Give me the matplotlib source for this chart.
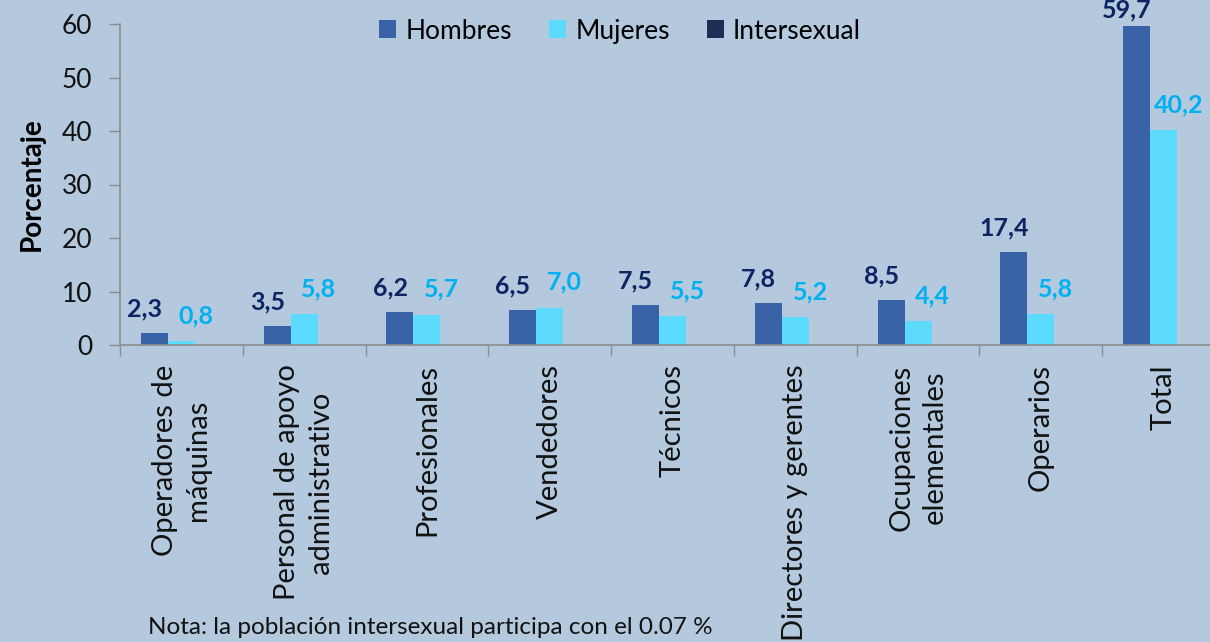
import numpy as np
import matplotlib.pyplot as plt

plt.rcParams['font.family'] = ['Lato', 'DejaVu Sans']

categorias = ['Operadores de\nmáquinas', 'Personal de apoyo\nadministrativo', 'Profesionales',
              'Vendedores', 'Técnicos', 'Directores y gerentes', 'Ocupaciones\nelementales',
              'Operarios', 'Total']
hombres = [2.3, 3.5, 6.2, 6.5, 7.5, 7.8, 8.5, 17.4, 59.7]
mujeres = [0.8, 5.8, 5.7, 7.0, 5.5, 5.2, 4.4, 5.8, 40.2]
intersexual = [0, 0, 0, 0, 0, 0, 0, 0, 0]
nota = 'Nota: la población intersexual participa con el 0.07 %'

fondo = '#B4C9DE'
c_h = '#3A62A7'
c_m = '#5CDBFF'
c_i = '#1F2D56'
gris = '#8C8C8C'

fig = plt.figure(figsize=(12.1, 6.42), dpi=100, facecolor=fondo)
ax = fig.add_axes([120 / 1210, 297 / 642, 1105 / 1210, 0.5])
ax.set_facecolor(fondo)

x = np.arange(len(categorias)) + 0.5
w = 0.22
ax.bar(x - w, hombres, w, color=c_h, label='Hombres')
ax.bar(x, mujeres, w, color=c_m, label='Mujeres')
ax.bar(x + w, intersexual, w, color=c_i, label='Intersexual')

ax.set_xlim(0, len(categorias))
ax.set_ylim(0, 60)

# etiquetas de datos
for i in range(len(categorias)):
    yh = min(hombres[i] + 4.5, 62.6)
    ax.text(x[i] - w - 0.08, yh, f'{hombres[i]:.1f}'.replace('.', ','), ha='center', va='center',
            fontsize=18, fontweight='bold', color='#0B2462', clip_on=False)
    ym = min(mujeres[i] + 4.7, 62.6)
    ax.text(x[i] + 0.12, ym, f'{mujeres[i]:.1f}'.replace('.', ','), ha='center', va='center',
            fontsize=18, fontweight='bold', color='#00B0F0', clip_on=False)

ax.set_yticks(range(0, 61, 10))
ax.tick_params(axis='y', length=8, width=1, color=gris, labelsize=19, pad=12, labelcolor='#111111')
ax.set_xticks(x)
ax.set_xticklabels(categorias, rotation=90, fontsize=21, va='top', ha='center',
                   multialignment='center', color='#111111', linespacing=1.35)
ax.tick_params(axis='x', length=0, pad=14)
ax.set_xticks(np.arange(len(categorias) + 1), minor=True)
ax.tick_params(axis='x', which='minor', length=8, width=1, color=gris)

for s in ['top', 'right']:
    ax.spines[s].set_visible(False)
for s in ['left', 'bottom']:
    ax.spines[s].set_color(gris)
    ax.spines[s].set_linewidth(1.2)

ax.set_ylabel('Porcentaje', fontsize=20, fontweight='bold', labelpad=12)

ax.legend(loc='upper center', bbox_to_anchor=(620 / 1210, 1 - 8 / 642), bbox_transform=fig.transFigure,
          ncol=3, frameon=False, fontsize=19, handlelength=0.65, handleheight=0.65,
          handletextpad=0.35, columnspacing=1.4, borderaxespad=0)

fig.text(148 / 1210, 1 - 628 / 642, nota, fontsize=17.5, va='center', ha='left', color='#111111')

fig.savefig('out.png', dpi=100, facecolor=fondo)
